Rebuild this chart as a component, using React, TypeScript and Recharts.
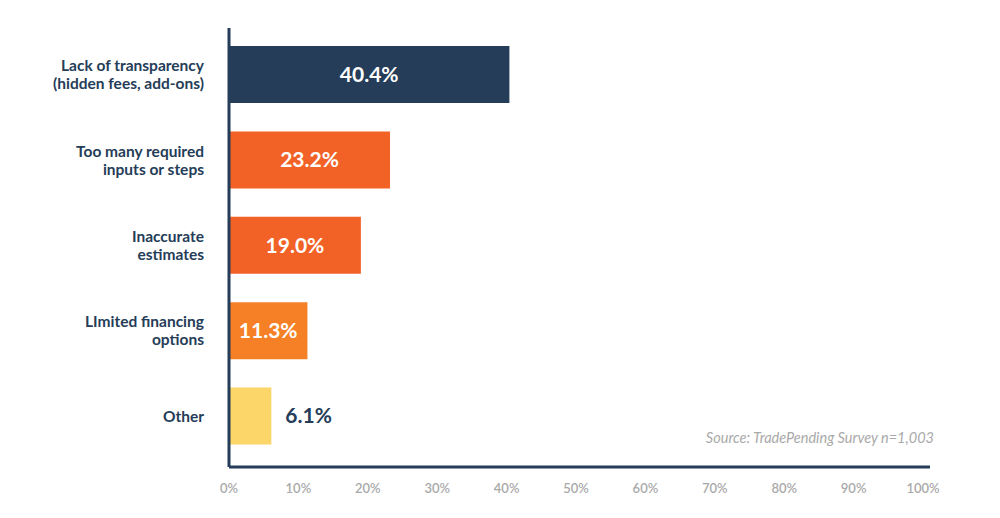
import { BarChart, Bar, XAxis, YAxis, Cell, LabelList } from 'recharts'

// survey answers, top to bottom
const categories = [
	'Lack of transparency\n(hidden fees, add-ons)',
	'Too many required\ninputs or steps',
	'Inaccurate\nestimates',
	'LImited financing\noptions',
	'Other',
]
const shares = [40.4, 23.2, 19.0, 11.3, 6.1]
const barColors = ['#253d58', '#f26126', '#f26126', '#f58025', '#fcd669']
const xTicks = [0, 10, 20, 30, 40, 50, 60, 70, 80, 90, 100]

const data = categories.map((name, i) => ({ name, value: shares[i] }))

const NAVY = '#253d58'
const FONT = 'Lato, "Open Sans", sans-serif'

const CategoryTick = ({ x, y, payload }: any) => {
	const lines = String(payload.value).split('\n')
	const lh = 18
	const start = y - ((lines.length - 1) * lh) / 2
	return (
		<text x={x} y={start} textAnchor='end' fill={NAVY} fontFamily={FONT} fontWeight={700} fontSize={15.5}>
			{lines.map((l, i) => (
				<tspan key={i} x={x} y={start + i * lh} dy='0.35em'>
					{l}
				</tspan>
			))}
		</text>
	)
}

const ValueLabel = ({ x, y, width, height, value }: any) => {
	const inside = value > 10
	const cx = inside ? x + width / 2 : x + width + 14
	return (
		<text
			x={cx}
			y={y + height / 2}
			dy='0.35em'
			textAnchor={inside ? 'middle' : 'start'}
			fill={inside ? '#ffffff' : NAVY}
			fontFamily={FONT}
			fontWeight={700}
			fontSize={21}
		>
			{value.toFixed(1) + '%'}
		</text>
	)
}

export default function App() {
	return (
		<div style={{ position: 'absolute', left: 0, top: 0, width: 1000, height: 518, background: '#fff' }}>
			<BarChart
				width={1000}
				height={518}
				layout='vertical'
				data={data}
				margin={{ top: 28, right: 70, bottom: 21, left: 0 }}
			>
				<XAxis
					type='number'
					domain={[0, 101]}
					ticks={xTicks}
					height={30}
					tickFormatter={(v) => v + '%'}
					axisLine={{ stroke: NAVY, strokeWidth: 3 }}
					tickLine={false}
					tickMargin={11}
					tick={{ fill: '#a9a9a9', fontSize: 13, fontFamily: FONT, fontWeight: 600 }}
				/>
				<YAxis
					type='category'
					dataKey='name'
					width={229}
					padding={{ top: 4, bottom: 8 }}
					axisLine={{ stroke: NAVY, strokeWidth: 3 }}
					tickLine={false}
					tickSize={0}
					tickMargin={25}
					tick={<CategoryTick />}
					interval={0}
				/>
				<Bar dataKey='value' barSize={57} isAnimationActive={false}>
					{data.map((d, i) => (
						<Cell key={d.name} fill={barColors[i]} />
					))}
					<LabelList dataKey='value' content={<ValueLabel />} />
				</Bar>
			</BarChart>
			<div
				style={{
					position: 'absolute',
					right: 66,
					top: 429,
					fontFamily: FONT,
					fontStyle: 'italic',
					fontSize: 14.5,
					color: '#a9a9a9',
				}}
			>
				Source: TradePending Survey n=1,003
			</div>
		</div>
	)
}
